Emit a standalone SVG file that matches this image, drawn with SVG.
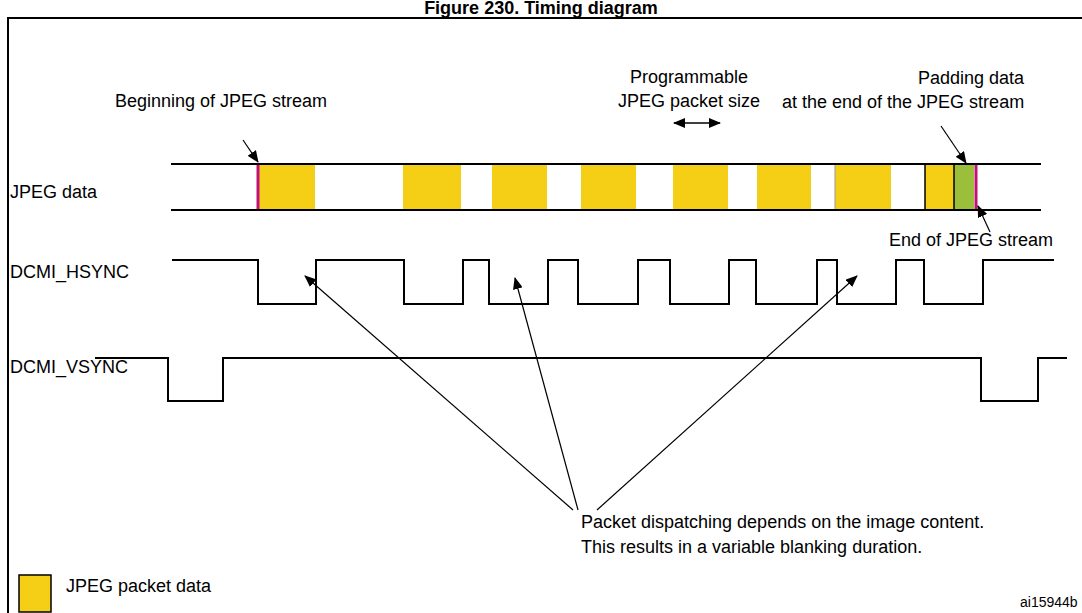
<svg xmlns="http://www.w3.org/2000/svg" width="1082" height="613" viewBox="0 0 1082 613">
<style>
text{font-family:"Liberation Sans",Arial,sans-serif;font-size:18px;fill:#000}
.w{fill:none;stroke:#000;stroke-width:2}
.y{fill:#f5cf16}
.a{stroke:#000;stroke-width:1.2;fill:none;marker-end:url(#ah)}
</style>
<defs>
<marker id="ah" markerWidth="12" markerHeight="10" refX="11" refY="5" orient="auto" markerUnits="userSpaceOnUse"><path d="M0,0 L12,5 L0,10 z" fill="#000"/></marker>
<marker id="ahs" markerWidth="12" markerHeight="10" refX="1" refY="5" orient="auto" markerUnits="userSpaceOnUse"><path d="M12,0 L0,5 L12,10 z" fill="#000"/></marker>
</defs>
<rect width="1082" height="613" fill="#fff"/>
<text x="541" y="14" text-anchor="middle" font-weight="bold" style="font-size:18px">Figure 230. Timing diagram</text>
<rect x="8" y="18" width="1090" height="610" fill="none" stroke="#000" stroke-width="2"/>
<g id="jpeg-data">
<rect class="y" x="259" y="165" width="56" height="44"/>
<rect class="y" x="403" y="165" width="58" height="44"/>
<rect class="y" x="492" y="165" width="55" height="44"/>
<rect class="y" x="581" y="165" width="55" height="44"/>
<rect class="y" x="673" y="165" width="55" height="44"/>
<rect class="y" x="757" y="165" width="54" height="44"/>
<rect class="y" x="835" y="165" width="56" height="44"/>
<line x1="835" y1="165" x2="835" y2="209" stroke="#999" stroke-width="1"/>
<rect class="y" x="925" y="165" width="29" height="44"/>
<rect x="954" y="165" width="20" height="44" fill="#9bbf3a"/>
<line x1="925" y1="164" x2="925" y2="210" stroke="#000" stroke-width="1.5"/>
<line x1="954" y1="164" x2="954" y2="210" stroke="#000" stroke-width="1.5"/>
<line x1="258" y1="164" x2="258" y2="210" stroke="#c0107a" stroke-width="3"/>
<line x1="976" y1="164" x2="976" y2="210" stroke="#c0107a" stroke-width="3"/>
<line x1="171" y1="164" x2="1041" y2="164" class="w"/>
<line x1="171" y1="210" x2="1041" y2="210" class="w"/>
<text x="10" y="198">JPEG data</text>
</g>
<g id="hsync">
<polyline class="w" points="172,260 258,260 258,304 316,304 316,260 404,260 404,304 463,304 463,260 489,260 489,304 548,304 548,260 578,260 578,304 638,304 638,260 670,260 670,304 729,304 729,260 756,260 756,304 817,304 817,260 837,260 837,304 896,304 896,260 924,260 924,304 983,304 983,260 1054,260"/>
<text x="10" y="278">DCMI_HSYNC</text>
</g>
<g id="vsync">
<polyline class="w" points="95,358 168,358 168,401 223,401 223,358 981,358 981,401 1038,401 1038,358 1067,358"/>
<text x="10" y="373">DCMI_VSYNC</text>
</g>
<g id="labels">
<text x="115" y="107">Beginning of JPEG stream</text>
<text x="689" y="83" text-anchor="middle">Programmable</text>
<text x="689" y="107" text-anchor="middle">JPEG packet size</text>
<text x="971" y="84" text-anchor="middle">Padding data</text>
<text x="782" y="108">at the end of the JPEG stream</text>
<text x="889" y="246">End of JPEG stream</text>
<text x="581" y="528">Packet dispatching depends on the image content.</text>
<text x="581" y="553">This results in a variable blanking duration.</text>
<rect class="y" x="19" y="575" width="32" height="37" stroke="#000" stroke-width="1.5"/>
<text x="66" y="592">JPEG packet data</text>
<text x="1020" y="607" style="font-size:14px">ai15944b</text>
</g>
<g id="connectors">
<line class="a" x1="243" y1="140" x2="258" y2="162"/>
<line class="a" x1="941" y1="126" x2="966" y2="163"/>
<line class="a" x1="990" y1="232" x2="978" y2="206"/>
<line x1="674" y1="123" x2="720" y2="123" stroke="#000" stroke-width="1.5" marker-start="url(#ahs)" marker-end="url(#ah)"/>
<line class="a" x1="573" y1="510" x2="305" y2="276"/>
<line class="a" x1="578" y1="510" x2="515" y2="278"/>
<line class="a" x1="597" y1="510" x2="857" y2="276"/>
</g>
</svg>
